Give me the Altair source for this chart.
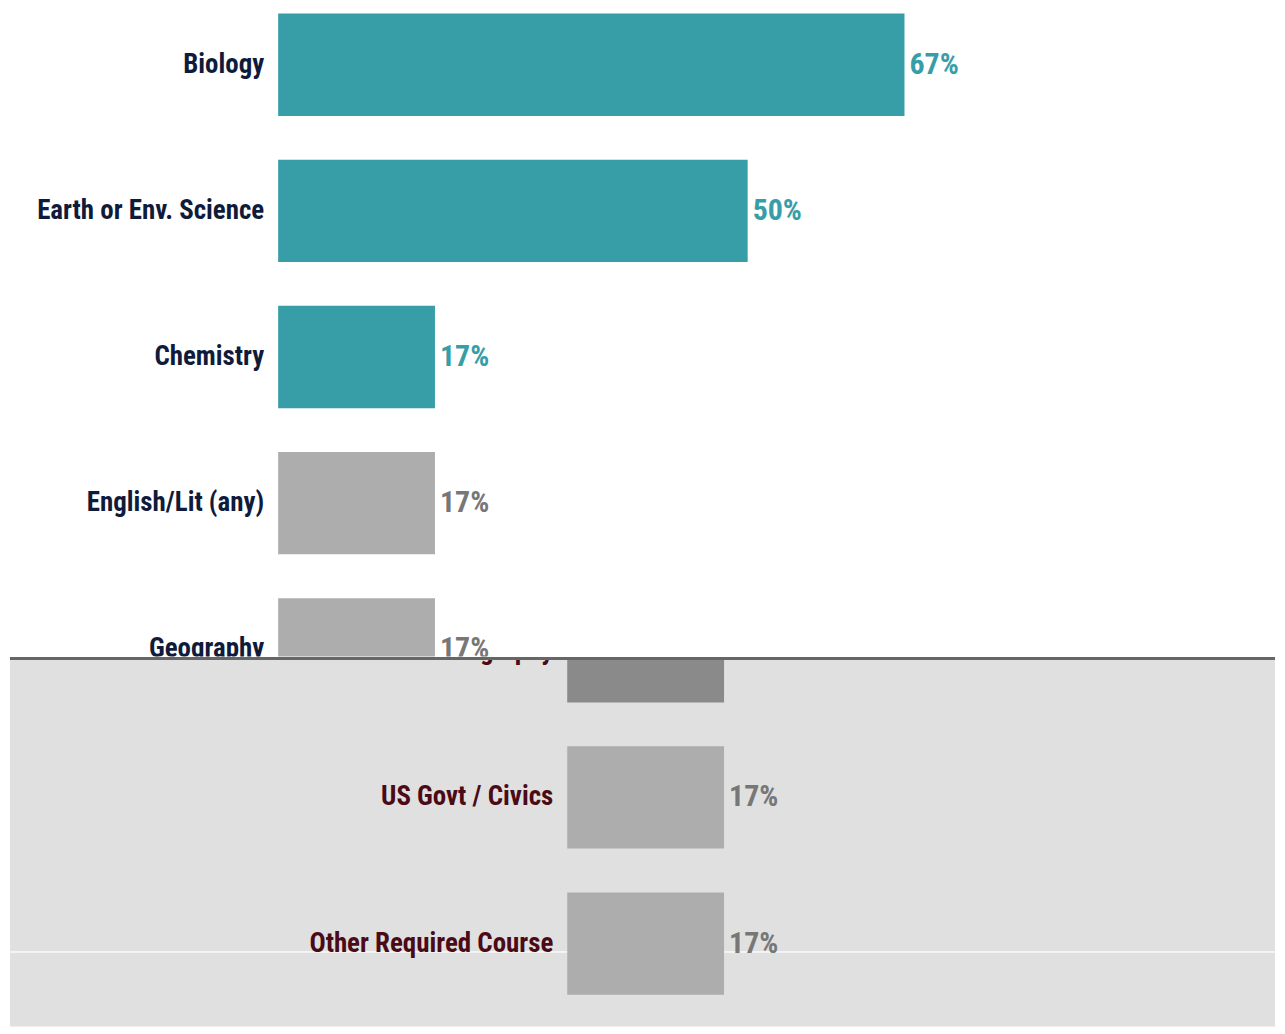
import altair as alt
import pandas as pd

categories = ["Biology", "Earth or Env. Science", "Chemistry", "English/Lit (any)",
              "Geography", "US Govt / Civics", "Other Required Course"]
shares = [0.667, 0.5, 0.167, 0.167, 0.167, 0.167, 0.167]
highlight = ["Biology", "Earth or Env. Science", "Chemistry"]

df = pd.DataFrame({"cat": categories, "val": shares})
df["hl"] = df["cat"].isin(highlight)

FONT = "'Roboto Condensed', 'Liberation Sans Narrow', 'Arial Narrow', 'Lato', sans-serif"
FS = 27
FS_VAL = 30
W = 1269
H_TOP = 649
H_BOT = 369


def panel(x_range, y_range, height, label_color, bar_color, text_color, grey_bg):
    base = alt.Chart(df).encode(
        y=alt.Y("cat:N", sort=categories, axis=None,
                scale=alt.Scale(domain=categories, range=y_range,
                                paddingInner=0.3, paddingOuter=0)),
    )
    xs = alt.Scale(domain=[0, 1], range=x_range)
    bars = base.mark_bar(clip=True).encode(
        x=alt.X("val:Q", scale=xs, axis=None),
        color=bar_color,
    )
    vals = base.mark_text(clip=True, align="left", baseline="middle", dx=5,
                          font=FONT, fontSize=FS_VAL, fontWeight="bold").encode(
        x=alt.X("val:Q", scale=xs, axis=None),
        text=alt.Text("val:Q", format=".0%"),
        color=text_color,
    )
    labels = base.mark_text(clip=True, align="right", baseline="middle", dx=-14,
                            font=FONT, fontSize=FS, fontWeight="bold",
                            color=label_color).encode(
        x=alt.datum(0, scale=xs),
        text="cat:N",
    )
    layers = [bars, vals, labels]
    ch = alt.layer(*layers).properties(width=W, height=height)
    if grey_bg:
        line = alt.Chart(df).mark_rule(color="#666666", strokeWidth=3).encode(
            x=alt.value(0), x2=alt.value(W), y=alt.value(0))
        grid = alt.Chart(df).mark_rule(color="#f4f4f4", strokeWidth=1.5).encode(
            x=alt.value(0), x2=alt.value(W), y=alt.value(294))
        ch = alt.layer(grid, *layers, line).properties(
            width=W, height=height,
            view=alt.ViewBackground(fill="#e0e0e0", stroke=None))
    return ch


top = panel(
    [269, 269 + 942], [4, 4 + 146.6 * 6.7], H_TOP, "#101b3b",
    alt.condition("datum.hl", alt.value("#379ea8"), alt.value("#adadad")),
    alt.condition("datum.hl", alt.value("#379ea8"), alt.value("#777777")),
    False,
)
bottom = panel(
    [559, 559 + 942], [4 - H_TOP, 4 - H_TOP + 146.6 * 6.7], H_BOT, "#4a0a16",
    alt.condition("datum.cat == 'Geography'", alt.value("#8a8a8a"), alt.value("#adadad")),
    alt.value("#777777"),
    True,
)

chart = alt.vconcat(top, bottom, spacing=0).properties(padding=0).configure_view(
    stroke=None).configure_concat(spacing=0)

chart.save("out.html", embed_options={"renderer": "svg", "actions": False})
